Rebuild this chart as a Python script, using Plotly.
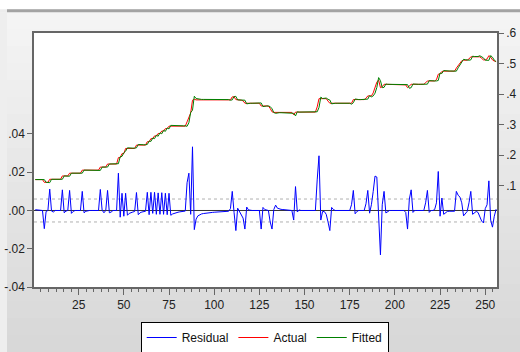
import plotly.graph_objects as go

# ---------------- data ----------------
# Actual series as (value, number of consecutive observations)
actual_runs = [(0.120, 5), (0.111, 3), (0.121, 7), (0.132, 4), (0.141, 7), (0.151, 10), (0.161, 4), (0.171, 6),
               (0.192, 2), (0.205, 2), (0.222, 6), (0.233, 6), (0.244, 2), (0.254, 2), (0.263, 2), (0.271, 2),
               (0.279, 2), (0.287, 2), (0.295, 10), (0.309, 1), (0.326, 1), (0.338, 1), (0.380, 1), (0.383, 1),
               (0.381, 20), (0.391, 2), (0.382, 3), (0.380, 1), (0.378, 1), (0.370, 9), (0.361, 5), (0.353, 1),
               (0.342, 1), (0.340, 11), (0.332, 1), (0.341, 12), (0.358, 1), (0.385, 5), (0.377, 1), (0.370, 13),
               (0.382, 7), (0.386, 1), (0.394, 3), (0.404, 1), (0.421, 1), (0.439, 1), (0.446, 1), (0.421, 1),
               (0.424, 1), (0.432, 12), (0.430, 1), (0.421, 1), (0.425, 1), (0.432, 8), (0.437, 1), (0.443, 5),
               (0.447, 1), (0.465, 1), (0.466, 1), (0.474, 1), (0.475, 7), (0.485, 1), (0.494, 1), (0.502, 1),
               (0.509, 1), (0.511, 3), (0.515, 1), (0.522, 6), (0.517, 1), (0.512, 2), (0.515, 1), (0.526, 1),
               (0.521, 1), (0.512, 1), (0.508, 1), (0.507, 1)]

# Fitted series as (value, number of consecutive observations)
fitted_runs = [(0.120, 6), (0.111, 2), (0.110, 1), (0.121, 7), (0.132, 3), (0.131, 1), (0.141, 7), (0.151, 9),
               (0.150, 1), (0.161, 4), (0.171, 5), (0.172, 1), (0.195, 1), (0.196, 1), (0.208, 1), (0.213, 1),
               (0.224, 1), (0.223, 4), (0.224, 1), (0.235, 1), (0.234, 4), (0.235, 1), (0.246, 1), (0.245, 1),
               (0.256, 1), (0.254, 1), (0.265, 1), (0.262, 1), (0.273, 1), (0.270, 1), (0.281, 1), (0.278, 1),
               (0.289, 1), (0.286, 1), (0.2975, 1), (0.297, 1), (0.2965, 1), (0.296, 6), (0.2945, 1), (0.3065, 1),
               (0.340, 1), (0.347, 1), (0.393, 1), (0.3855, 1), (0.384, 1), (0.383, 1), (0.3825, 5), (0.382, 11),
               (0.380, 1), (0.381, 1), (0.392, 1), (0.3925, 1), (0.381, 2), (0.382, 2), (0.380, 1), (0.368, 1),
               (0.370, 7), (0.371, 1), (0.359, 1), (0.361, 3), (0.359, 1), (0.352, 1), (0.3395, 1), (0.337, 1),
               (0.339, 9), (0.337, 1), (0.3285, 1), (0.342, 1), (0.341, 10), (0.342, 1), (0.356, 1), (0.390, 1),
               (0.3855, 2), (0.387, 1), (0.383, 1), (0.3805, 1), (0.368, 1), (0.370, 10), (0.367, 1), (0.3715, 1),
               (0.384, 1), (0.382, 5), (0.3825, 1), (0.3835, 1), (0.395, 1), (0.391, 1), (0.394, 1), (0.403, 1),
               (0.4215, 1), (0.454, 1), (0.444, 1), (0.421, 1), (0.422, 1), (0.433, 1), (0.432, 10), (0.431, 2),
               (0.419, 1), (0.421, 1), (0.433, 1), (0.432, 6), (0.433, 1), (0.4325, 1), (0.444, 1), (0.443, 4),
               (0.4446, 1), (0.469, 1), (0.4675, 1), (0.477, 1), (0.476, 1), (0.4755, 5), (0.475, 1), (0.486, 1),
               (0.495, 1), (0.505, 1), (0.5138, 1), (0.5125, 1), (0.5115, 1), (0.511, 1), (0.512, 1), (0.524, 1),
               (0.523, 1), (0.5225, 1), (0.523, 1), (0.5255, 1), (0.5225, 1), (0.5185, 1), (0.511, 1), (0.512, 1),
               (0.5105, 1), (0.526, 1), (0.5207, 1), (0.511, 1), (0.506, 1)]

# Residuals: (observation, value); observations not listed read as 0
residual_points = [
    (1, 0.0004), (2, 0.0002), (6, -0.0095), (7, -0.0005), (9, 0.0112), (10, -0.0003), (11, -0.0008),
    (16, 0.0108), (17, -0.0012), (18, -0.0003), (20, 0.0105), (21, -0.0015), (22, -0.0005),
    (27, 0.0100), (28, -0.0012), (29, -0.0004), (37, 0.0110), (38, 0.0002), (39, -0.0012),
    (41, 0.0105), (42, -0.0012), (43, -0.0008), (47, 0.0195), (48, -0.0035), (49, 0.0090), (50, -0.0030),
    (51, 0.0090), (52, -0.0025), (53, -0.0015), (54, -0.0010), (55, -0.0008), (56, -0.0005),
    (57, 0.0094), (58, -0.0022), (59, -0.0012), (60, -0.0008), (61, -0.0006), (62, -0.0004),
    (63, 0.0095), (64, -0.0022), (65, 0.0095), (66, -0.0015), (67, 0.0095), (68, -0.0020), (69, 0.0092),
    (70, -0.0020), (71, 0.0093), (72, -0.0020), (73, 0.0090), (74, -0.0022), (75, 0.0090), (76, -0.0025),
    (77, -0.0018), (78, -0.0014), (79, -0.0011), (80, -0.0009), (81, -0.0007), (82, -0.0005), (83, -0.0004),
    (84, -0.0003), (85, 0.0145), (86, 0.0195), (87, -0.0020), (88, 0.0333), (89, -0.0100), (90, -0.0045),
    (91, -0.0028), (92, -0.0021), (93, -0.0018), (94, -0.0016), (95, -0.0014), (96, -0.0013), (97, -0.0012),
    (98, -0.0011), (99, -0.0010), (100, -0.0009), (101, -0.0008), (102, -0.0008), (103, -0.0007),
    (104, -0.0006), (105, -0.0006), (106, -0.0005), (107, -0.0005), (108, -0.0004), (109, 0.0010),
    (110, 0.0100), (111, -0.0010), (112, -0.0105), (113, 0.0012), (114, -0.0005), (115, -0.0020),
    (116, -0.0040), (117, -0.0097), (118, 0.0018), (119, 0.0003), (126, -0.0097), (127, 0.0016),
    (128, 0.0005), (129, 0.0002), (131, -0.0060), (132, -0.0097), (133, 0.0005), (134, 0.0028),
    (135, 0.0012), (136, 0.0008), (137, 0.0006), (138, 0.0005), (139, 0.0004), (140, 0.0003), (141, 0.0003),
    (142, 0.0002), (144, -0.0050), (145, 0.0125), (146, -0.0008), (147, 0.0003), (157, 0.0160),
    (158, 0.0286), (159, -0.0050), (160, -0.0005), (161, -0.0006), (162, -0.0020), (163, -0.0060),
    (164, -0.0105), (165, 0.0016), (166, 0.0005), (176, 0.0030), (177, 0.0105), (178, -0.0017),
    (179, -0.0005), (184, 0.0035), (185, 0.0105), (186, -0.0014), (187, 0.0030), (188, 0.0100),
    (189, 0.0180), (190, 0.0175), (191, -0.0080), (192, -0.0232), (193, 0.0030), (194, 0.0100),
    (195, -0.0013), (196, -0.0005), (206, -0.0010), (207, -0.0097), (208, 0.0060), (209, 0.0108),
    (210, -0.0010), (217, 0.0040), (218, 0.0105), (219, -0.0010), (222, 0.0005), (223, 0.0040),
    (224, 0.0204), (225, -0.0030), (226, 0.0065), (227, -0.0020), (228, -0.0010), (229, -0.0005),
    (230, -0.0004), (231, -0.0004), (232, -0.0004), (233, -0.0004), (234, 0.0100), (235, 0.0080),
    (236, 0.0070), (237, 0.0040), (238, -0.0028), (239, -0.0015), (240, -0.0005), (241, 0.0040),
    (242, 0.0100), (243, -0.0020), (244, -0.0010), (245, -0.0005), (246, -0.0010), (247, -0.0035),
    (248, -0.0055), (249, -0.0065), (250, 0.0010), (251, 0.0030), (252, 0.0155), (253, -0.0050),
    (254, -0.0087), (255, -0.0030), (256, 0.0007)]

n_obs = 256
resid_sd = 0.006          # dotted +/- 1 S.E. band around zero

x_tickvals = [25, 50, 75, 100, 125, 150, 175, 200, 225, 250]
y_left_tickvals = [-0.04, -0.02, 0.0, 0.02, 0.04]
y_left_ticktext = ["-.04", "-.02", ".00", ".02", ".04"]
y_right_tickvals = [0.1, 0.2, 0.3, 0.4, 0.5, 0.6]
y_right_ticktext = [".1", ".2", ".3", ".4", ".5", ".6"]

series_colors = {"Residual": "#0000ff", "Actual": "#ff0000", "Fitted": "#008000"}


def expand(runs):
    out = []
    for v, c in runs:
        out.extend([v] * c)
    return out


actual = expand(actual_runs)
fitted = expand(fitted_runs)
assert len(actual) == n_obs, len(actual)
assert len(fitted) == n_obs, len(fitted)
residual = [0.0] * n_obs
for ob, v in residual_points:
    residual[ob - 1] = v
obs = list(range(1, n_obs + 1))

# ---------------- figure ----------------
W, H = 520, 352
ML, MR, MT, MB = 34, 23, 33, 65
PW, PH = W - ML - MR, H - MT - MB


def px(xp):
    return (xp - ML) / PW


def py(yp):
    return (H - MB - yp) / PH


FONT = "Arial, 'Liberation Sans', sans-serif"
AXCOL = "#666666"

fig = go.Figure()
fig.add_trace(go.Scatter(x=obs, y=residual, name="Residual", mode="lines",
                         line=dict(color=series_colors["Residual"], width=1), yaxis="y"))
fig.add_trace(go.Scatter(x=obs, y=actual, name="Actual", mode="lines",
                         line=dict(color=series_colors["Actual"], width=1), yaxis="y2"))
fig.add_trace(go.Scatter(x=obs, y=fitted, name="Fitted", mode="lines",
                         line=dict(color=series_colors["Fitted"], width=1), yaxis="y2"))

shapes = []
# window background gradient (outside plot area)
nb = 20
top, bot = 12, H
c0, c1 = 0xf4, 0xd8
for i in range(nb):
    y0 = top + (bot - top) * i / nb
    y1 = top + (bot - top) * (i + 1) / nb + 0.5
    c = round(c0 + (c1 - c0) * i / (nb - 1))
    col = "#%02x%02x%02x" % (c, c, c)
    shapes.append(dict(type="rect", xref="paper", yref="paper", x0=px(0), x1=px(W),
                       y0=py(y1), y1=py(y0), fillcolor=col, line=dict(width=0), layer="below"))
# white strip above window + title bar line
shapes.append(dict(type="rect", xref="paper", yref="paper", x0=px(0), x1=px(W), y0=py(9.3), y1=py(0),
                   fillcolor="#ffffff", line=dict(width=0), layer="below"))
shapes.append(dict(type="rect", xref="paper", yref="paper", x0=px(7), x1=px(W), y0=py(12.3), y1=py(9.3),
                   fillcolor="#a3a3a3", line=dict(width=0), layer="below"))
shapes.append(dict(type="rect", xref="paper", yref="paper", x0=px(0), x1=px(7), y0=py(H), y1=py(12.3),
                   fillcolor="#eeeeee", line=dict(width=0), layer="below"))
# white plot area
shapes.append(dict(type="rect", xref="paper", yref="paper", x0=0, x1=1, y0=0, y1=1,
                   fillcolor="#ffffff", line=dict(width=0), layer="below"))
# zero line and +/- S.E. lines
shapes.append(dict(type="line", xref="paper", yref="y", x0=0, x1=1, y0=0, y1=0,
                   line=dict(color="#333333", width=1), layer="below"))
for s in (resid_sd, -resid_sd):
    shapes.append(dict(type="line", xref="paper", yref="y", x0=0, x1=1, y0=s, y1=s,
                       line=dict(color="#b0b0b0", width=1, dash="dot"), layer="below"))

fig.update_layout(
    width=W, height=H, autosize=False,
    margin=dict(l=ML, r=MR, t=MT, b=MB, pad=0, autoexpand=False),
    paper_bgcolor="#ececec", plot_bgcolor="#ffffff",
    font=dict(family=FONT, size=12, color="#222222"),
    showlegend=True,
    legend=dict(orientation="h", x=px(264.7), xanchor="center", y=py(322), yanchor="top",
                bgcolor="#ffffff", bordercolor="#000000", borderwidth=1,
                font=dict(family=FONT, size=12, color="#111111"),
                itemwidth=30, tracegroupgap=0),
    shapes=shapes,
    xaxis=dict(range=[0.3, 256.5], tickmode="array", tickvals=x_tickvals, automargin=False,
               ticks="outside", ticklen=6, tickcolor=AXCOL, tickwidth=1,
               minor=dict(ticks="outside", ticklen=3, tickcolor=AXCOL, dtick=25 / 6, tick0=0),
               showline=True, linecolor=AXCOL, linewidth=1.5, mirror=True,
               showgrid=False, zeroline=False, tickfont=dict(size=12, color="#222222")),
    yaxis=dict(range=[-0.04, 0.0928], tickmode="array", tickvals=y_left_tickvals, automargin=False,
               ticktext=y_left_ticktext, ticks="outside", ticklen=5, tickcolor=AXCOL,
               showline=True, linecolor=AXCOL, linewidth=1.5,
               showgrid=False, zeroline=False, tickfont=dict(size=12, color="#222222")),
    yaxis2=dict(range=[-0.2317, 0.6], overlaying="y", side="right", tickmode="array", automargin=False,
                tickvals=y_right_tickvals, ticktext=y_right_ticktext, ticks="outside", ticklen=5,
                tickcolor=AXCOL, showline=True, linecolor=AXCOL, linewidth=1.5,
                showgrid=False, zeroline=False, tickfont=dict(size=12, color="#222222")),
)

fig.write_html("out.html", config={"displayModeBar": False},
               post_script="document.body.style.margin='0';document.body.style.overflow='hidden';")
